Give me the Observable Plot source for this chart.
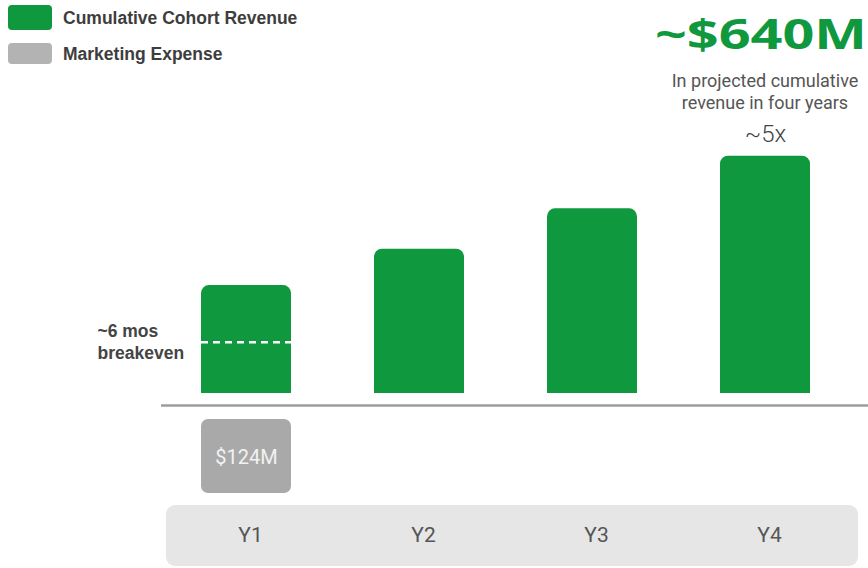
<!DOCTYPE html>
<html><head><meta charset="utf-8">
<script src="https://cdn.jsdelivr.net/npm/d3@7"></script>
<script src="https://cdn.jsdelivr.net/npm/@observablehq/plot@0.6"></script>
<style>
body{margin:0;background:#fff;}
#wrap{position:relative;width:868px;height:568px;overflow:hidden;background:#fff;}
#band{position:absolute;left:166px;top:505px;width:692px;height:61px;background:#e6e6e6;border-radius:9px;}
#chart{position:absolute;left:0;top:0;}
.sw{position:absolute;left:8px;width:44px;border-radius:4px;}
.lg{position:absolute;left:63px;font-family:"Liberation Sans",Arial,sans-serif;font-weight:bold;font-size:17.5px;color:#3d3d3d;line-height:20px;}
#head{position:absolute;right:1px;top:11px;font-family:"Open Sans",sans-serif;font-weight:bold;font-size:41px;line-height:44px;color:#10983f;transform:scaleX(1.36);transform-origin:right center;}
#sub{position:absolute;left:660px;width:210px;top:70px;text-align:center;font-family:Roboto,sans-serif;font-size:18px;line-height:22px;color:#555;}
</style></head>
<body>
<div id="wrap">
  <div id="band"></div>
  <div id="chart"></div>
  <div class="sw" style="top:5px;height:25px;background:#10983f;"></div>
  <div class="lg" style="top:8px;">Cumulative Cohort Revenue</div>
  <div class="sw" style="top:43px;height:21px;background:#b3b3b3;"></div>
  <div class="lg" style="top:44px;">Marketing Expense</div>
  <div id="head"></div>
  <div id="sub">In projected cumulative<br>revenue in four years</div>
</div>
<script>
// Data ($M)
const years = ["Y1", "Y2", "Y3", "Y4"];
const revenue = [291, 389, 498, 640];       // cumulative cohort revenue
const marketingYears = ["Y1"];
const marketing = [124];                     // marketing expense
const breakevenYear = "Y1";
const breakeven = 138;                       // ~6 mos breakeven marker
const breakevenLabel = "~6 mos\nbreakeven";
const multipleLabel = "~5x";
const headline = "~$640M";

const green = "#10983f";
const grey = "#a9a9a9";

const revData = years.map((year, i) => ({year, value: revenue[i]}));
const mktData = marketingYears.map((year, i) => ({year, value: marketing[i]}));
const beData = [{year: breakevenYear, value: breakeven, label: breakevenLabel}];
const topData = [revData[revData.length - 1]];

document.getElementById("head").textContent = headline;

const chart = Plot.plot({
  width: 868,
  height: 568,
  marginLeft: 161,
  marginRight: 0,
  marginTop: 0,
  marginBottom: 33,
  style: {background: "transparent", fontFamily: "Roboto, sans-serif"},
  x: {type: "band", domain: years, range: [158.15, 852.95], paddingInner: 0.482, paddingOuter: 0.241, align: 0.5, label: null},
  y: {type: "linear", domain: [-124, 0, 640], range: [467, 393, 155.7], axis: null},
  marks: [
    Plot.barY(revData, {x: "year", y: "value", fill: green, rx: 8}),
    Plot.barY(revData, {x: "year", y: d => d.value / 2, fill: green}),
    Plot.barY(mktData, {x: "year", y: d => -d.value, fill: grey, rx: 7, dy: 26}),
    Plot.text(mktData, {x: "year", y: d => -d.value / 2, dy: 27, text: d => `$${d.value}M`, fill: "#f2f2f2", fontSize: 20, fontFamily: "Roboto, sans-serif"}),
    Plot.tickY(beData, {x: "year", y: "value", stroke: "white", strokeWidth: 2.5, strokeDasharray: "7,5"}),
    Plot.text(beData, {x: "year", y: "value", text: "label", textAnchor: "start", dx: -149, dy: -1, fontWeight: "bold", fontSize: 17.5, lineHeight: 1.25, fill: "#444", fontFamily: "Liberation Sans, Arial, sans-serif"}),
    Plot.ruleY([0], {dy: 12, stroke: "#9c9c9c", strokeWidth: 2.5}),
    Plot.text(topData, {x: "year", y: "value", text: () => multipleLabel, dy: -22, fontSize: 24, fontWeight: 300, fill: "#444", fontFamily: "Roboto, sans-serif"}),
    Plot.axisX({anchor: "bottom", tickSize: 0, tickPadding: 0, fontSize: 21, fill: "#555", lineAnchor: "middle", fontFamily: "Roboto, sans-serif", label: null, dx: 4})
  ]
});
document.getElementById("chart").appendChild(chart);
</script>
</body></html>
